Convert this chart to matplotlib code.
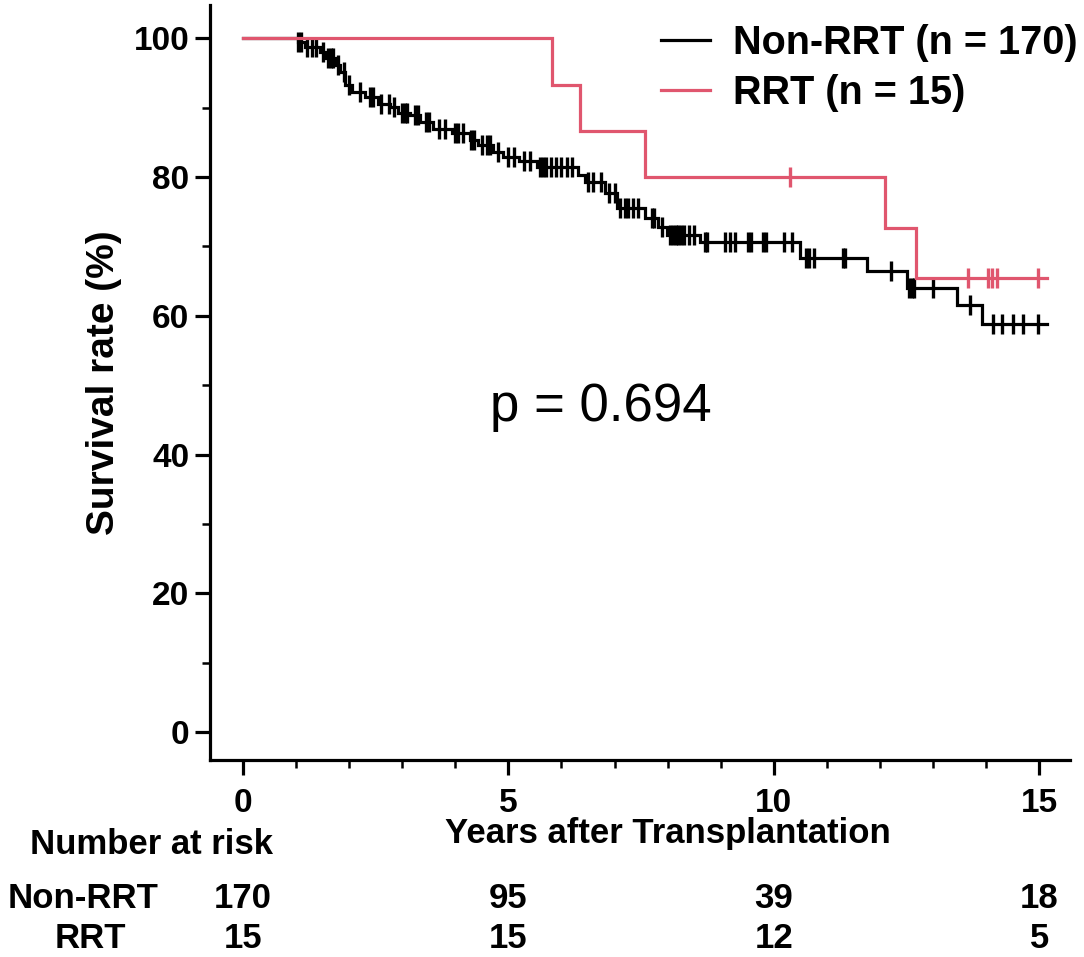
import matplotlib
matplotlib.use('Agg')
import matplotlib.pyplot as plt
import matplotlib.transforms as mtransforms
from matplotlib.ticker import MultipleLocator
import numpy as np

plt.rcParams['font.family'] = ['Liberation Sans', 'DejaVu Sans']

# Kaplan-Meier steps (years, survival %)
nonrrt_times = [0, 1.04, 1.17, 1.45, 1.55, 1.73, 1.83, 1.92, 2.05, 2.30, 2.54, 2.77, 2.92,
                3.15, 3.34, 3.58, 3.94, 4.28, 4.43, 4.71, 4.90, 5.20, 5.54, 6.31, 6.44,
                6.82, 7.05, 7.57, 7.82, 7.99, 8.61, 10.50, 11.76, 12.51, 13.45, 13.93]
nonrrt_surv = [100, 99.4, 98.8, 98.0, 97.1, 96.1, 95.1, 93.2, 92.2, 91.5, 90.6, 90.1, 89.3,
               88.9, 87.9, 86.9, 86.3, 85.3, 84.6, 83.6, 82.9, 82.3, 81.5, 80.3, 79.3,
               77.7, 75.5, 74.1, 72.8, 71.6, 70.6, 68.4, 66.4, 64.0, 61.5, 58.9]
nonrrt_censor = [1.04, 1.1, 1.2, 1.3, 1.38, 1.5, 1.6, 1.65, 1.7, 1.8, 1.9, 2.0, 2.2, 2.4,
                 2.45, 2.6, 2.75, 2.85, 3.0, 3.05, 3.1, 3.25, 3.3, 3.45, 3.5, 3.7, 3.8,
                 4.0, 4.05, 4.15, 4.3, 4.35, 4.5, 4.6, 4.65, 4.8, 5.0, 5.1, 5.3, 5.4, 5.6,
                 5.65, 5.7, 5.8, 5.9, 6.0, 6.1, 6.2, 6.5, 6.6, 6.75, 6.9, 7.0, 7.1, 7.2,
                 7.25, 7.35, 7.45, 7.7, 7.75, 7.9, 8.05, 8.1, 8.15, 8.2, 8.25, 8.3, 8.4,
                 8.5, 8.7, 8.75, 9.08, 9.17, 9.27, 9.52, 9.57, 9.8, 9.85, 10.2, 10.35,
                 10.6, 10.67, 10.75, 11.3, 11.35, 12.2, 12.55, 12.6, 12.65, 13.0, 13.7,
                 14.13, 14.3, 14.5, 14.7, 14.98]
nonrrt_end = 15.15

rrt_times = [0, 5.83, 6.35, 7.57, 12.1, 12.67]
rrt_surv = [100, 93.3, 86.7, 80.0, 72.7, 65.5]
rrt_censor = [10.3, 13.65, 14.04, 14.12, 14.2, 14.98]
rrt_end = 15.15

risk_years = [0, 5, 10, 15]
risk_nonrrt = [170, 95, 39, 18]
risk_rrt = [15, 15, 12, 5]

black = '#000000'
red = '#E0566E'


def step_at(times, surv, t):
    idx = np.searchsorted(times, t, side='right') - 1
    return np.asarray(surv)[idx]


def km(ax, times, surv, censor, end, color, label):
    xs = list(times) + [end]
    ys = list(surv) + [surv[-1]]
    ax.step(xs, ys, where='post', color=color, lw=2.3, label=label,
            solid_joinstyle='miter')
    cy = step_at(times, surv, censor)
    ax.plot(censor, cy, ls='none', marker='|', ms=15, mew=2.4, color=color)


fig = plt.figure(figsize=(10.84, 9.57), dpi=100)
ax = fig.add_axes([210 / 1084, 197 / 957, 860 / 1084, 755 / 957])

km(ax, nonrrt_times, nonrrt_surv, nonrrt_censor, nonrrt_end, black, 'Non-RRT (n = 170)')
km(ax, rrt_times, rrt_surv, rrt_censor, rrt_end, red, 'RRT (n = 15)')

ax.set_xlim(-0.62, 15.58)
ax.set_ylim(-4.0, 104.8)
ax.spines['top'].set_visible(False)
ax.spines['right'].set_visible(False)
for s in ['left', 'bottom']:
    ax.spines[s].set_linewidth(2.3)

ax.xaxis.set_major_locator(MultipleLocator(5))
ax.xaxis.set_minor_locator(MultipleLocator(1))
ax.yaxis.set_major_locator(MultipleLocator(20))
ax.yaxis.set_minor_locator(MultipleLocator(10))
ax.tick_params(which='major', length=11, width=2.3, labelsize=24, pad=4)
ax.tick_params(axis='x', which='major', pad=9)
ax.tick_params(which='minor', length=6, width=1.8)
for lab in ax.get_xticklabels() + ax.get_yticklabels():
    lab.set_fontweight('bold')

ax.set_ylabel('Survival rate (%)', fontsize=28, fontweight='bold', labelpad=8)

ax.text(0.455, 0.468, 'p = 0.694', transform=ax.transAxes, fontsize=38,
        ha='center', va='center')

leg = ax.legend(loc='upper right', bbox_to_anchor=(1078 / 1084, 1 - 24 / 957),
                bbox_transform=fig.transFigure, frameon=False,
                prop={'size': 28.5, 'weight': 'bold'}, handlelength=1.26,
                handletextpad=0.58, labelspacing=0.3, borderpad=0, borderaxespad=0)

# number at risk table
trans = mtransforms.blended_transform_factory(ax.transData, fig.transFigure)
fig.text(668 / 1084, 1 - 834 / 957, 'Years after Transplantation', fontsize=25,
         fontweight='bold', ha='center', va='center')
fig.text(152 / 1084, 1 - 845 / 957, 'Number at risk', fontsize=25,
         fontweight='bold', ha='center', va='center')
fig.text(83 / 1084, 1 - 898 / 957, 'Non-RRT', fontsize=25, fontweight='bold',
         ha='center', va='center')
fig.text(90 / 1084, 1 - 938 / 957, 'RRT', fontsize=25, fontweight='bold',
         ha='center', va='center')
for yr, a, b in zip(risk_years, risk_nonrrt, risk_rrt):
    ax.text(yr, 1 - 898 / 957, str(a), transform=trans, fontsize=25,
            fontweight='bold', ha='center', va='center')
    ax.text(yr, 1 - 938 / 957, str(b), transform=trans, fontsize=25,
            fontweight='bold', ha='center', va='center')

fig.savefig('out.png', dpi=100)
